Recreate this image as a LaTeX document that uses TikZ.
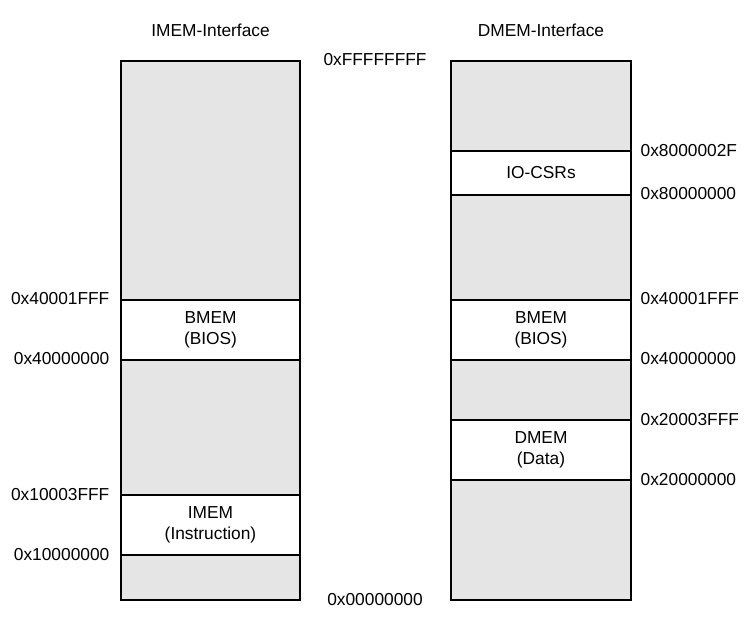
\documentclass[tikz,border=0pt]{standalone}
\usepackage{fontspec}
\setmainfont{Liberation Sans}

\begin{document}
\begin{tikzpicture}[x=0.75pt, y=-0.75pt, line width=1pt,
  free/.style={fill=gray!20, draw=black},
  used/.style={fill=white, draw=black},
  addr/.style={font=\fontsize{13}{16}\selectfont, inner sep=0pt},
  region/.style={font=\fontsize{13}{16}\selectfont, align=center, inner sep=0pt}]
  \useasboundingbox (0,0) rectangle (752,632);
  % IMEM side
  \draw[free] (121,61) rectangle (300,600);
  \draw[used] (121,300) rectangle (300,360);
  \draw[used] (121,495) rectangle (300,555);
  \node[region] (ititle) at (210.5,30) {IMEM-Interface};
  \node[region] (ibmem)  at (210.5,330) {BMEM\\(BIOS)};
  \node[region] (iimem)  at (210.5,525) {IMEM\\(Instruction)};
  \node[addr, anchor=east] (ia1) at (110,299) {0x40001FFF};
  \node[addr, anchor=east] (ia2) at (110,359) {0x40000000};
  \node[addr, anchor=east] (ia3) at (110,495) {0x10003FFF};
  \node[addr, anchor=east] (ia4) at (110,555) {0x10000000};
  % common bounds
  \node[addr] (top) at (375,60)  {0xFFFFFFFF};
  \node[addr] (bot) at (375,600) {0x00000000};
  % DMEM side
  \draw[free] (451,61) rectangle (631,600);
  \draw[used] (451,151) rectangle (631,195);
  \draw[used] (451,300) rectangle (631,360);
  \draw[used] (451,420) rectangle (631,480);
  \node[region] (dtitle) at (541,30) {DMEM-Interface};
  \node[region] (dio)    at (541,173) {IO-CSRs};
  \node[region] (dbmem)  at (541,330) {BMEM\\(BIOS)};
  \node[region] (ddmem)  at (541,450) {DMEM\\(Data)};
  \node[addr, anchor=west] (da1) at (640,151) {0x8000002F};
  \node[addr, anchor=west] (da2) at (640,194) {0x80000000};
  \node[addr, anchor=west] (da3) at (640,299) {0x40001FFF};
  \node[addr, anchor=west] (da4) at (640,359) {0x40000000};
  \node[addr, anchor=west] (da5) at (640,420) {0x20003FFF};
  \node[addr, anchor=west] (da6) at (640,480) {0x20000000};
\end{tikzpicture}
\end{document}
